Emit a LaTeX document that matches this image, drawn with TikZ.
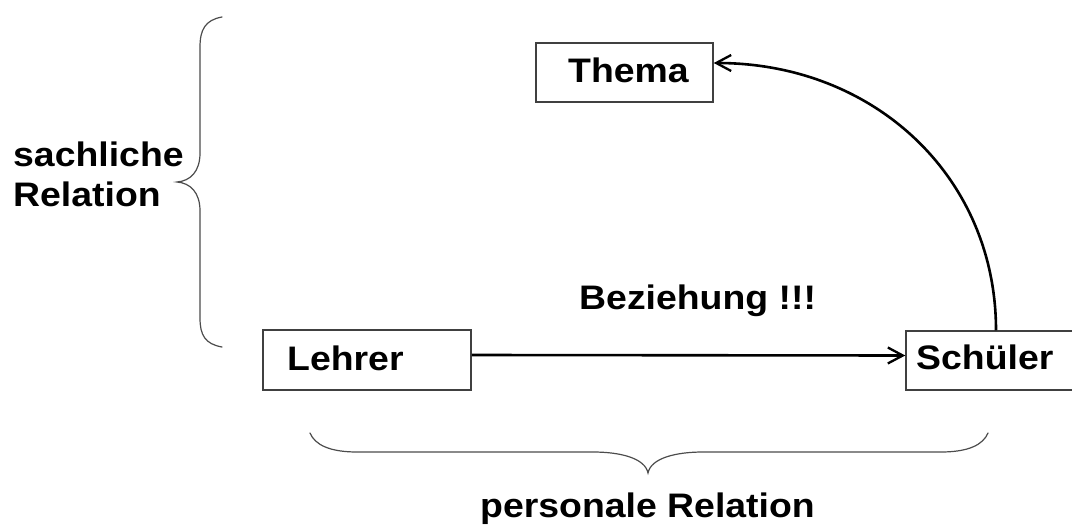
\documentclass[tikz,border=0pt]{standalone}
\usepackage{fontspec}
\newfontfamily\labfont{Liberation Sans}[FakeStretch=1.1]
\usetikzlibrary{arrows.meta}
\begin{document}
\begin{tikzpicture}[x=1pt,y=1pt,
  box/.style={draw=black!75, line width=1.5pt, inner sep=0pt, fill=white},
  lbl/.style={font=\labfont\bfseries\fontsize{34}{40}\selectfont, inner sep=0pt, anchor=base west},
  arr/.style={line width=2.6pt, -{Straight Barb[length=15pt,width=16pt,line width=2.3pt]}},
  brace/.style={draw=black!70, line width=1.2pt, line cap=round}]
\useasboundingbox (0,0) rectangle (1072,-525);
\clip (0,0) rectangle (1072,-525);
% boxes
\node[box, minimum width=177pt, minimum height=59pt] (thema) at (624.5,-72.5) {};
\node[box, minimum width=208pt, minimum height=60pt] (lehrer) at (367,-360) {};
\node[box, minimum width=180pt, minimum height=59pt] (schueler) at (996,-360.5) {};
% texts
\node[lbl] (tthema) at (568,-82) {Thema};
\node[lbl] (tlehrer) at (287,-370) {Lehrer};
\node[lbl] (tschueler) at (916,-369) {Schüler};
\node[lbl] (tbez) at (579,-309) {Beziehung !!!};
\node[lbl] (tsach1) at (13,-166) {sachliche};
\node[lbl] (tsach2) at (13,-206) {Relation};
\node[lbl] (tpers) at (480,-517) {personale Relation};
% connectors
\draw[arr] ([yshift=5pt]lehrer.east) -- ([yshift=5pt]schueler.west);
\draw[arr] (schueler.north) .. controls +(0,153) and +(161,0) .. ([yshift=9.5pt]thema.east);
% left brace
\draw[brace] (222,-17) .. controls (205,-20) and (200,-30) .. (200,-47) -- (200,-153)
  .. controls (200,-172) and (190,-181) .. (177,-182)
  .. controls (190,-183) and (200,-192) .. (200,-211) -- (200,-318)
  .. controls (200,-335) and (205,-344) .. (222,-347);
% bottom brace
\draw[brace] (310,-433) .. controls (315,-445) and (330,-452) .. (357,-452) -- (593,-452)
  .. controls (620,-452) and (645,-458) .. (648,-473)
  .. controls (651,-458) and (676,-452) .. (703,-452) -- (941,-452)
  .. controls (968,-452) and (983,-445) .. (988,-433);
\end{tikzpicture}
\end{document}
